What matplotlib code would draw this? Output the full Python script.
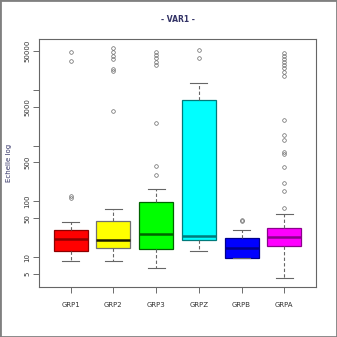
import matplotlib
matplotlib.use('Agg')
import matplotlib.pyplot as plt
from matplotlib.patches import Rectangle
import numpy as np

GROUPS = ['GRP1', 'GRP2', 'GRP3', 'GRPZ', 'GRPB', 'GRPA']
FILLS = ['#ff0000', '#ffff00', '#00ff00', '#00ffff', '#0000ff', '#ff00ff']
DARKS = ['#8b0000', '#1a1a00', '#006400', '#007b7b', '#00008b', '#8b008b']

# boxplot statistics per group (log-scale values)
WHISLO = [8.5, 8.5, 6.3, 12.7, 9.5, 4.15]
Q1 = [12.8, 14.4, 13.8, 20.0, 9.5, 15.6]
MED = [20.8, 20.0, 26.2, 23.9, 14.5, 22.9]
Q3 = [30.2, 44.9, 96.0, 6510, 21.7, 32.8]
WHISHI = [42.0, 72.0, 164.0, 13150, 30.2, 58.5]

FLIERS = [
    [48000, 33000, 127, 117],
    [55900, 47400, 41200, 35500, 24000, 21500, 4190],
    [48500, 42400, 37000, 31700, 28000, 2580, 430, 300],
    [52100, 37000],
    [45.6, 44.0],
    [46000, 40600, 35900, 31700, 28000, 24800, 21000, 17800,
     2880, 1550, 1260, 769, 708, 419, 211, 155, 75],
]

YTICKS = [5, 10, 50, 100, 500, 1000, 5000, 10000, 50000]
YTICKLABELS = ['5', '10', '50', '100', '500', '', '5000', '', '50000']

fig = plt.figure(figsize=(3.37, 3.37), dpi=100)
ax = fig.add_axes([39 / 337, 50 / 337, 277 / 337, 248 / 337])

stats = []
for i in range(len(GROUPS)):
    stats.append(dict(med=MED[i], q1=Q1[i], q3=Q3[i], whislo=WHISLO[i],
                      whishi=WHISHI[i], fliers=FLIERS[i], label=GROUPS[i]))

pos = np.arange(1, len(GROUPS) + 1)
bp = ax.bxp(stats, positions=pos, widths=0.8, capwidths=0.4, patch_artist=True,
            boxprops=dict(linewidth=0.9),
            whiskerprops=dict(color='#666666', linestyle=(0, (3, 2)), linewidth=0.8),
            capprops=dict(color='#666666', linewidth=0.8),
            medianprops=dict(linewidth=1.8),
            flierprops=dict(marker='o', markersize=2.6, markerfacecolor='none',
                            markeredgecolor='#666666', markeredgewidth=0.5))

for i, box in enumerate(bp['boxes']):
    box.set_facecolor(FILLS[i])
    box.set_edgecolor('#707070' if i == 1 else DARKS[i])
for i, med in enumerate(bp['medians']):
    med.set_color(DARKS[i])
    med.set_solid_capstyle('butt')

ax.set_yscale('log')
ax.set_ylim(2.9, 82000)
ax.set_xlim(0.26, 6.74)

ax.set_yticks(YTICKS)
ax.set_yticklabels(YTICKLABELS, rotation=90, va='center', fontsize=5, color='#333333')
ax.yaxis.set_minor_locator(matplotlib.ticker.NullLocator())
ax.set_xticks(pos)
ax.set_xticklabels(GROUPS, fontsize=5, color='#333333')
ax.tick_params(axis='both', length=4, width=0.6, color='#555555')
ax.tick_params(axis='x', pad=7)
ax.tick_params(axis='y', pad=2)

for sp in ax.spines.values():
    sp.set_color('#666666')
    sp.set_linewidth(0.8)

ax.set_ylabel('Echelle log', fontsize=5, color='#333366', labelpad=9)
ax.set_title('- VAR1 -', fontsize=5.5, fontweight='bold', color='#333366', pad=12)

fig.patches.append(Rectangle((0, 0), 1, 1, transform=fig.transFigure, fill=False,
                             edgecolor='#808080', linewidth=2))

fig.savefig('out.png', dpi=100)
